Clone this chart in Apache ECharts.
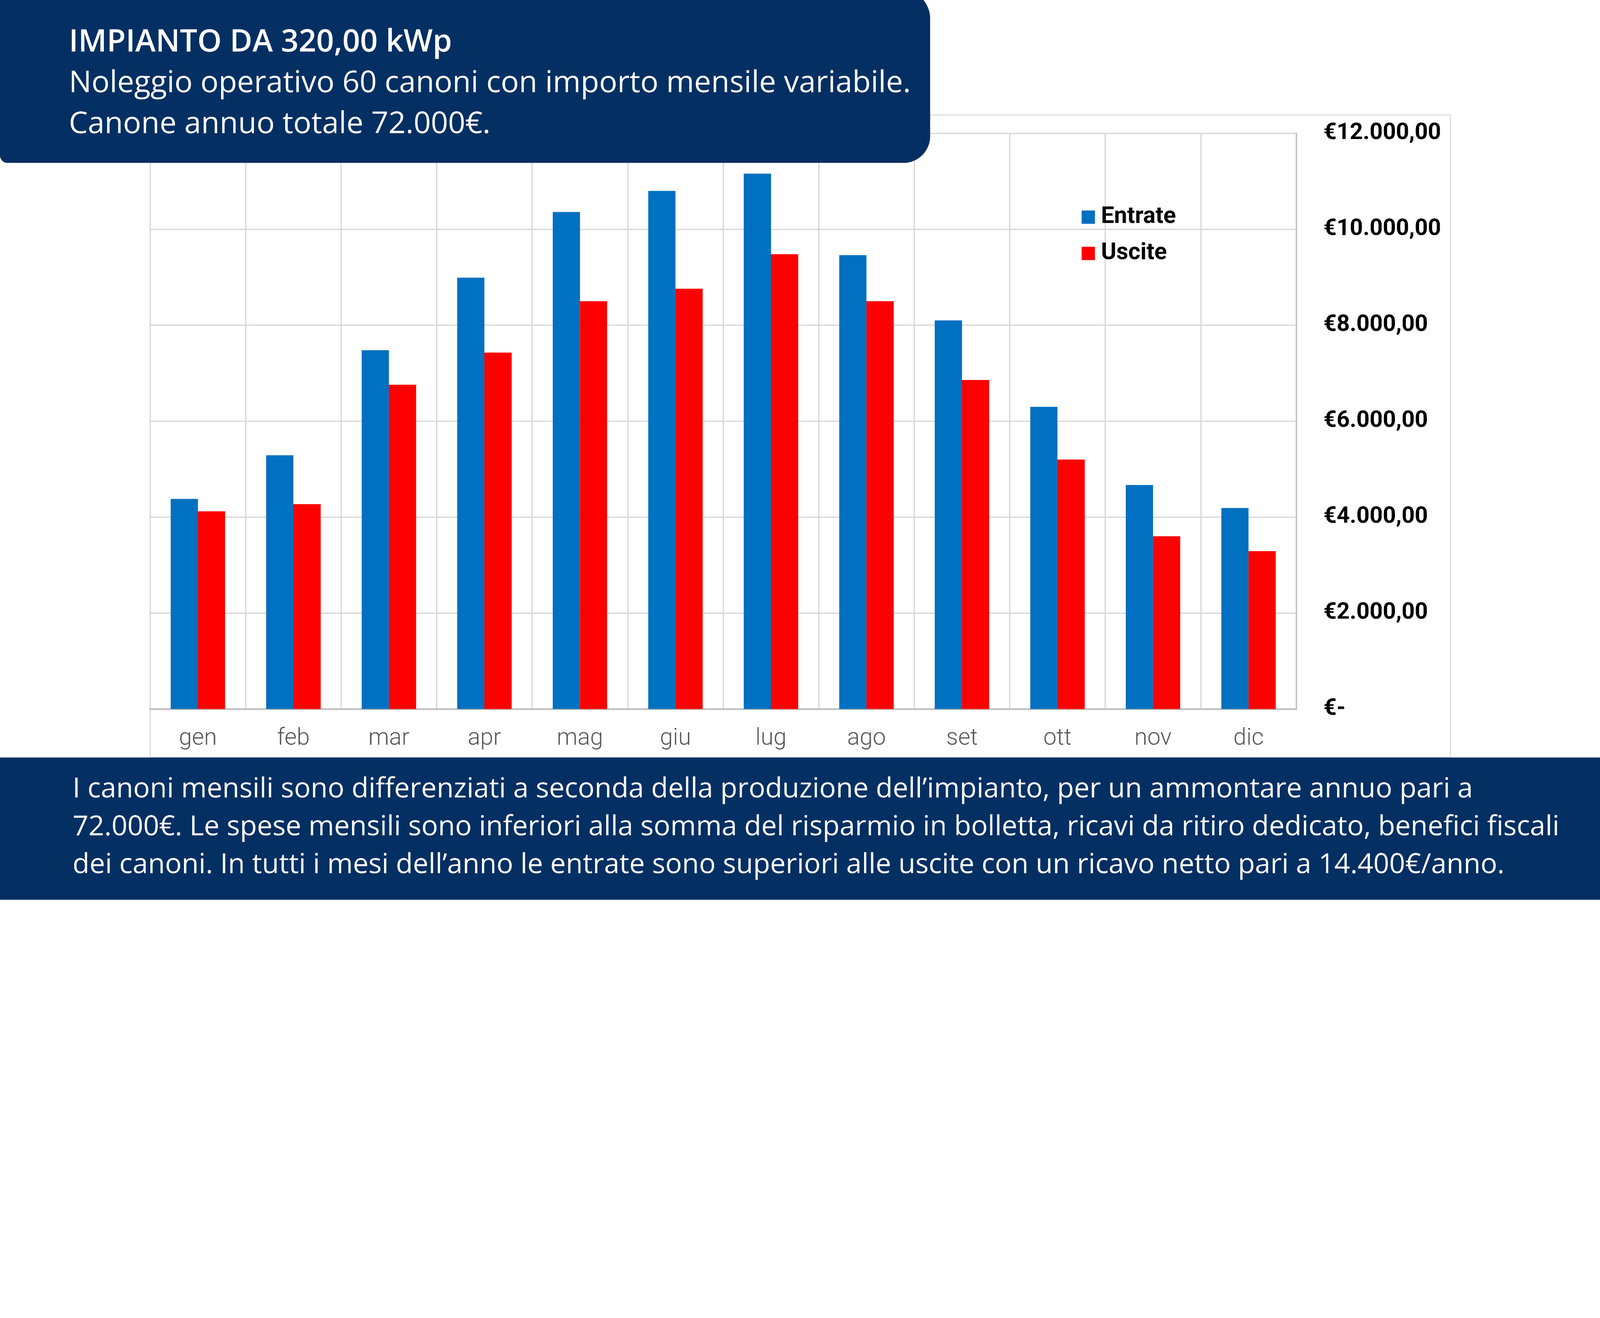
<!DOCTYPE html>
<html lang="it">
<head>
    <meta charset="UTF-8">
    <title>Impianto 320,00 kWp - entrate e uscite</title>
    <script src="https://cdn.jsdelivr.net/npm/echarts@6/dist/echarts.min.js"></script>
    <style>
        html, body { margin: 0; padding: 0; background: #ffffff; overflow: hidden; }
        #wrap { width: 100vw; height: 100vh; overflow: hidden; position: relative; }
        #chart { width: 6000px; height: 3375px; transform-origin: 0 0; position: absolute; left: 0; top: 0; }
    </style>
</head>
<body>
<div id="wrap"><div id="chart"></div></div>

<script>
    // dati
    var mesi = ['gen', 'feb', 'mar', 'apr', 'mag', 'giu', 'lug', 'ago', 'set', 'ott', 'nov', 'dic'];
    var entrate = [4380, 5290, 7480, 8990, 10360, 10800, 11160, 9460, 8100, 6300, 4670, 4190];
    var uscite = [4120, 4270, 6760, 7430, 8500, 8760, 9480, 8500, 6860, 5200, 3600, 3290];
    var nomiSerie = ['Entrate', 'Uscite'];

    var titoloRighe = [
        'IMPIANTO DA 320,00 kWp',
        'Noleggio operativo 60 canoni con importo mensile variabile.',
        'Canone annuo totale 72.000€.'
    ];
    var notaRighe = [
        'I canoni mensili sono differenziati a seconda della produzione dell’impianto, per un ammontare annuo pari a',
        '72.000€. Le spese mensili sono inferiori alla somma del risparmio in bolletta, ricavi da ritiro dedicato, benefici fiscali',
        'dei canoni. In tutti i mesi dell’anno le entrate sono superiori alle uscite con un ricavo netto pari a 14.400€/anno.'
    ];

    var blu = '#042F63';

    // €12.000,00 / €-
    function euro(v) {
        if (v === 0) return '€-';
        var s = String(Math.round(v)).replace(/\B(?=(\d{3})+(?!\d))/g, '.');
        return '€' + s + ',00';
    }

    // il disegno è pensato su 6000x3375, poi lo adatto alla finestra
    var dom = document.getElementById('chart');
    var k = window.innerWidth / 6000;
    dom.style.transform = 'scale(' + k + ')';

    var chart = echarts.init(dom, null, {devicePixelRatio: Math.max(1, 1 / k)});

    var grafica = [
        // cornice del grafico
        {
            type: 'rect', z: -10,
            shape: {x: 563, y: 431, width: 4876, height: 2409},
            style: {fill: '#ffffff', stroke: '#D9D9D9', lineWidth: 4}
        },
        // riquadro titolo
        {
            type: 'rect', z: 100,
            shape: {x: 0, y: -40, width: 3488, height: 651, r: [0, 110, 100, 28]},
            style: {fill: blu}
        },
        // fascia in basso
        {
            type: 'rect', z: 100,
            shape: {x: 0, y: 2841, width: 6000, height: 534},
            style: {fill: blu}
        }
    ];

    var titoloY = [160, 313, 467];
    titoloRighe.forEach(function (t, i) {
        grafica.push({
            type: 'text', z: 101,
            x: 258, y: titoloY[i],
            style: {
                text: t, fill: '#ffffff',
                font: i === 0 ? '600 116px "Open Sans"' : '400 113px "Open Sans"',
                verticalAlign: 'middle'
            }
        });
    });

    var notaY = [2961, 3103, 3245];
    notaRighe.forEach(function (t, i) {
        grafica.push({
            type: 'text', z: 101,
            x: 272, y: notaY[i],
            style: {
                text: t, fill: '#ffffff',
                font: '400 104px "Open Sans"',
                verticalAlign: 'middle'
            }
        });
    });

    var option = {
        backgroundColor: '#ffffff',
        animation: false,
        grid: {
            left: 563,
            right: 1139,
            top: 500,
            bottom: 716,
            containLabel: false
        },
        legend: {
            data: nomiSerie,
            orient: 'vertical',
            left: 4051,
            top: 766,
            icon: 'rect',
            itemWidth: 50,
            itemHeight: 50,
            itemGap: 49,
            textStyle: {
                fontFamily: 'Roboto',
                fontWeight: 'bold',
                fontSize: 87,
                lineHeight: 62,
                color: '#000000',
                padding: [0, 0, 0, 18]
            }
        },
        xAxis: {
            type: 'category',
            data: mesi,
            axisLine: {show: true, lineStyle: {color: '#BFBFBF', width: 7}},
            axisTick: {show: false},
            splitLine: {show: true, lineStyle: {color: '#D9D9D9', width: 5}},
            axisLabel: {
                color: '#595959',
                fontFamily: 'Roboto',
                fontWeight: 300,
                fontSize: 88,
                margin: 68
            }
        },
        yAxis: {
            type: 'value',
            position: 'right',
            min: 0,
            max: 12000,
            interval: 2000,
            axisLine: {show: true, lineStyle: {color: '#BFBFBF', width: 5}},
            axisTick: {show: false},
            splitLine: {show: true, lineStyle: {color: '#D9D9D9', width: 5}},
            axisLabel: {
                formatter: euro,
                color: '#000000',
                fontFamily: 'Roboto',
                fontWeight: 'bold',
                fontSize: 86,
                margin: 102
            }
        },
        series: [
            {
                name: nomiSerie[0],
                type: 'bar',
                data: entrate,
                barGap: '0%',
                barCategoryGap: '43%',
                itemStyle: {color: '#0070C0'}
            },
            {
                name: nomiSerie[1],
                type: 'bar',
                data: uscite,
                barGap: '0%',
                barCategoryGap: '43%',
                itemStyle: {color: '#FF0000'}
            }
        ],
        graphic: grafica
    };

    chart.setOption(option);
</script>
</body>
</html>
